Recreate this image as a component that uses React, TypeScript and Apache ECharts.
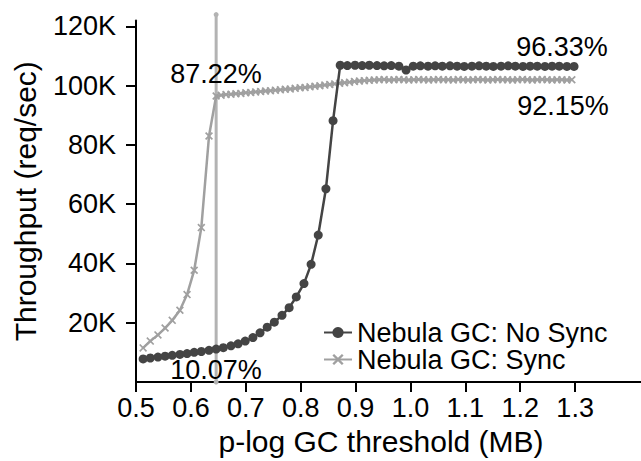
import React, { useEffect, useRef } from "react";
import * as echarts from "echarts";

// ---- Data (throughput in thousands of req/sec) ----
const xTickValues = [0.5, 0.6, 0.7, 0.8, 0.9, 1.0, 1.1, 1.2, 1.3];
const yTickValues = [20, 40, 60, 80, 100, 120];

const noSyncX = [
  0.513, 0.526, 0.54, 0.553, 0.566, 0.58, 0.593, 0.606, 0.619, 0.633,
  0.646, 0.659, 0.673, 0.686, 0.699, 0.713, 0.726, 0.739, 0.752, 0.766,
  0.779, 0.792, 0.806, 0.819, 0.832, 0.846, 0.859, 0.872, 0.885, 0.899,
  0.912, 0.925, 0.939, 0.952, 0.965, 0.979, 0.992, 1.005, 1.018, 1.032,
  1.045, 1.058, 1.072, 1.085, 1.098, 1.112, 1.125, 1.138, 1.151, 1.165,
  1.178, 1.191, 1.205, 1.218, 1.231, 1.245, 1.258, 1.271, 1.285, 1.298,
];
const noSyncY = [
  7.8, 8.1, 8.4, 8.7, 9.0, 9.3, 9.6, 10.0, 10.3, 10.7,
  11.1, 11.6, 12.2, 12.9, 13.8, 15.0, 16.6, 18.5, 20.2, 22.5,
  25.1, 28.7, 33.2, 39.7, 49.6, 65.2, 88.2, 106.9, 106.8, 106.9,
  106.8, 106.9, 106.8, 106.7, 106.8, 106.6, 105.3, 106.6, 106.7, 106.6,
  106.7, 106.6, 106.7, 106.6, 106.5, 106.6, 106.7, 106.6, 106.5, 106.6,
  106.7, 106.6, 106.5, 106.6, 106.6, 106.5, 106.6, 106.6, 106.5, 106.5,
];

const syncX = [
  0.513, 0.526, 0.54, 0.553, 0.566, 0.58, 0.593, 0.606, 0.619, 0.633, 0.646,
  0.655, 0.664, 0.673, 0.682, 0.691, 0.7, 0.709, 0.718, 0.727, 0.736,
  0.745, 0.754, 0.763, 0.772, 0.781, 0.79, 0.799, 0.808, 0.817, 0.826,
  0.835, 0.844, 0.853, 0.862, 0.871, 0.88, 0.889, 0.898, 0.907, 0.916,
  0.925, 0.934, 0.943, 0.952, 0.961, 0.97, 0.979, 0.988, 0.997, 1.006,
  1.015, 1.024, 1.033, 1.042, 1.051, 1.06, 1.069, 1.078, 1.087, 1.096,
  1.105, 1.114, 1.123, 1.132, 1.141, 1.15, 1.159, 1.168, 1.177, 1.186,
  1.195, 1.204, 1.213, 1.222, 1.231, 1.24, 1.249, 1.258, 1.267, 1.276,
  1.285, 1.294,
];
const syncY = [
  11.5, 13.8, 15.9, 18.2, 20.8, 24.2, 29.5, 37.7, 52.1, 83.0, 96.5,
  96.8, 97.0, 97.1, 97.3, 97.4, 97.6, 97.7, 97.9, 98.0, 98.2,
  98.3, 98.5, 98.6, 98.8, 98.9, 99.1, 99.3, 99.4, 99.6, 99.8,
  100.0, 100.2, 100.4, 100.6, 100.8, 101.0, 101.2, 101.4, 101.6, 101.7,
  101.8, 101.9, 102.0, 102.1, 101.9, 102.0, 102.1, 102.0, 101.9, 102.0,
  102.1, 102.0, 101.9, 102.0, 102.1, 102.0, 102.0, 101.9, 102.1, 102.0,
  101.9, 102.0, 102.1, 102.0, 101.9, 102.0, 102.1, 102.0, 102.0, 101.9,
  102.0, 102.1, 102.0, 101.9, 102.0, 102.1, 102.0, 101.9, 102.0, 102.0,
  101.9, 102.0,
];

const thresholdX = [0.646, 0.646];
const thresholdY = [0, 124];

const annotations = [
  { text: "87.22%", x: 216, y: 74 },
  { text: "10.07%", x: 216, y: 370 },
  { text: "96.33%", x: 562, y: 47 },
  { text: "92.15%", x: 563, y: 106 },
];

const seriesNames = ["Nebula GC: No Sync", "Nebula GC: Sync"];

const FONT = "'Liberation Sans', Arial, Helvetica, sans-serif";
const X_SYMBOL =
  "path://M1.5,0 L5,3.5 L8.5,0 L10,1.5 L6.5,5 L10,8.5 L8.5,10 L5,6.5 L1.5,10 L0,8.5 L3.5,5 L0,1.5 Z";

export default function App() {
  const ref = useRef<HTMLDivElement>(null);

  useEffect(() => {
    if (!ref.current) return;
    const chart = echarts.init(ref.current, undefined, { renderer: "svg" });
    const zip = (xs: number[], ys: number[]) => xs.map((x, i) => [x, ys[i]]);

    chart.setOption({
      animation: false,
      backgroundColor: "#ffffff",
      textStyle: { fontFamily: FONT, color: "#000" },
      grid: { left: 136, right: -1, top: 20.5, bottom: 77.5 },
      xAxis: {
        type: "value",
        min: 0.5,
        max: 1.42,
        name: "p-log GC threshold (MB)",
        nameLocation: "middle",
        nameGap: 44,
        nameTextStyle: { fontSize: 30, color: "#000", fontFamily: FONT, padding: [0, 15, 0, 0] },
        axisLine: { show: true, lineStyle: { color: "#000", width: 2 } },
        axisTick: { show: true, length: 10, lineStyle: { color: "#000", width: 2 }, customValues: xTickValues },
        axisLabel: {
          customValues: xTickValues,
          fontSize: 27,
          color: "#000",
          fontFamily: FONT,
          margin: 12,
          formatter: (v: number) => v.toFixed(1),
        },
        splitLine: { show: false },
      },
      yAxis: {
        type: "value",
        min: 0,
        max: 122,
        name: "Throughput (req/sec)",
        nameLocation: "middle",
        nameGap: 96,
        nameTextStyle: { fontSize: 30, color: "#000", fontFamily: FONT },
        axisLine: { show: true, lineStyle: { color: "#000", width: 2 } },
        axisTick: { show: true, length: 10, lineStyle: { color: "#000", width: 2 }, customValues: yTickValues },
        axisLabel: {
          customValues: yTickValues,
          fontSize: 27,
          color: "#000",
          fontFamily: FONT,
          margin: 20,
          formatter: (v: number) => `${v}K`,
        },
        splitLine: { show: false },
      },
      legend: {
        orient: "vertical",
        left: 318,
        top: 314,
        itemWidth: 28,
        itemHeight: 14,
        itemGap: 0,
        data: seriesNames,
        textStyle: { fontSize: 27, color: "#000", fontFamily: FONT, lineHeight: 27 },
      },
      series: [
        {
          name: "threshold",
          type: "line",
          data: zip(thresholdX, thresholdY),
          symbol: "circle",
          symbolSize: 5,
          clip: false,
          lineStyle: { color: "#b3b3b3", width: 3 },
          itemStyle: { color: "#b3b3b3" },
          z: 1,
          silent: true,
        },
        {
          name: seriesNames[1],
          type: "line",
          data: zip(syncX, syncY),
          symbol: X_SYMBOL,
          symbolSize: 8,
          showAllSymbol: true,
          lineStyle: { color: "#a0a0a0", width: 2.5 },
          itemStyle: { color: "#a0a0a0" },
          z: 2,
        },
        {
          name: seriesNames[0],
          type: "line",
          data: zip(noSyncX, noSyncY),
          symbol: "circle",
          symbolSize: 9,
          showAllSymbol: true,
          lineStyle: { color: "#444444", width: 2.5 },
          itemStyle: { color: "#444444" },
          z: 3,
        },
      ],
      graphic: annotations.map((a) => ({
        type: "text",
        x: a.x,
        y: a.y,
        z: 10,
        style: {
          text: a.text,
          fontSize: 27,
          fontFamily: FONT,
          fill: "#000",
          align: "center",
          verticalAlign: "middle",
        },
      })),
    });

    return () => chart.dispose();
  }, []);

  return (
    <div
      ref={ref}
      style={{ position: "absolute", left: 0, top: 0, width: 641, height: 461 }}
    />
  );
}
